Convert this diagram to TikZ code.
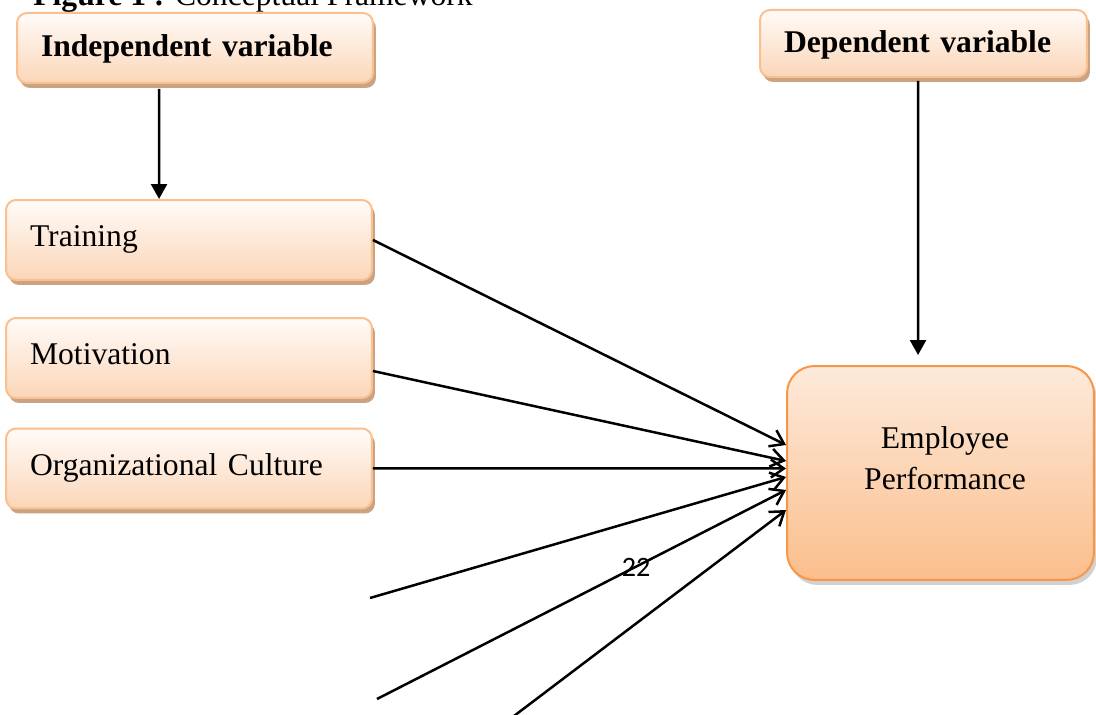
\documentclass[tikz,border=0pt]{standalone}
\usepackage{xcolor}
\usepackage{fontspec}
\setmainfont{Liberation Serif}
\newfontfamily\pagefont{Carlito}
\usepackage{tikz}
\usetikzlibrary{calc,shadows,arrows.meta}
\definecolor{boxedge}{RGB}{250,192,144}
\definecolor{boxtop}{RGB}{255,251,248}
\definecolor{boxbottom}{RGB}{251,214,184}
\definecolor{boxshadow}{RGB}{203,162,130}
\definecolor{outedge}{RGB}{247,150,70}
\definecolor{outtop}{RGB}{253,234,219}
\definecolor{outbottom}{RGB}{251,190,140}

\begin{document}
\begin{tikzpicture}[x=0.02cm,y=-0.02cm,
  every node/.style={font=\fontsize{18}{23.3}\selectfont},
  varbox/.style={draw=boxedge, line width=0.04cm, rounded corners=0.2cm,
    top color=boxtop, bottom color=boxbottom,
    drop shadow={shadow xshift=0.06cm, shadow yshift=-0.1cm, fill=boxshadow, opacity=1},
    inner xsep=0.48cm, inner ysep=0pt, align=left,
    text height=12.6pt, text depth=5pt},
  headbox/.style={varbox, font=\fontsize{18}{23.3}\selectfont\bfseries, text depth=2.4pt},
  outbox/.style={draw=outedge, line width=0.04cm, rounded corners=0.55cm,
    top color=outtop, bottom color=outbottom,
    drop shadow={shadow xshift=0.06cm, shadow yshift=-0.1cm, fill=black, opacity=0.18}},
  link/.style={line width=0.05cm, -{Straight Barb[length=0.26cm, width=0.36cm, line width=0.05cm]}},
  vlink/.style={line width=0.05cm, -{Triangle[length=0.3cm, width=0.32cm]}}]
\useasboundingbox (0,0) rectangle (1096,715);
\clip (0,0) rectangle (1096,715);
% Title (cut at the top)
\node[anchor=base west, inner sep=0pt] (title) at (33,6) {\textbf{Figure 1 :} Conceptual Framework};
% Headings
\node[headbox, text width=6.16cm, minimum height=1.4cm] (indep) at (195,48) {Independent variable};
\node[headbox, text width=5.58cm, minimum height=1.34cm] (dep) at (923.5,43.5) {Dependent variable};
% Independent variables
\node[varbox, text width=6.36cm, minimum height=1.6cm] (train) at (189,240) {Training};
\node[varbox, text width=6.36cm, minimum height=1.6cm] (motiv) at (189,358) {Motivation};
\node[varbox, text width=6.36cm, minimum height=1.6cm] (orgcult) at (189,468.5) {Organizational Culture};
% Dependent variable
\node[outbox, minimum width=6.14cm, minimum height=4.28cm] (empbox) at (940.5,473) {};
\node[align=center] (emptext) at (945,458) {Employee\\Performance};
% Page number
\node[font=\pagefont\fontsize{16}{19}\selectfont, anchor=base, inner sep=0pt] (pagenum) at (636,577) {22};
% Heading arrows
\draw[vlink] ($(indep.south west)+(143,5)$) -- ($(train.north west)+(154,0)$);
\draw[vlink] ($(dep.south west)+(159,3)$) -- ($(empbox.north west)+(132,-10)$);
% Links to performance
\coordinate (l1) at (370,598);
\coordinate (l2) at (377,699);
\coordinate (l3) at (510,719);
\draw[link] (train.east) -- ($(empbox.west)+(0,-28)$);
\draw[link] ($(motiv.east)+(0,13)$) -- ($(empbox.west)+(0,-12)$);
\draw[link] (orgcult.east) -- ($(empbox.west)+(0,-4.5)$);
\draw[link] (l1) -- ($(empbox.west)+(0,4)$);
\draw[link] (l2) -- ($(empbox.west)+(0,17)$);
\draw[link] (l3) -- ($(empbox.west)+(0,37)$);
\end{tikzpicture}
\end{document}
